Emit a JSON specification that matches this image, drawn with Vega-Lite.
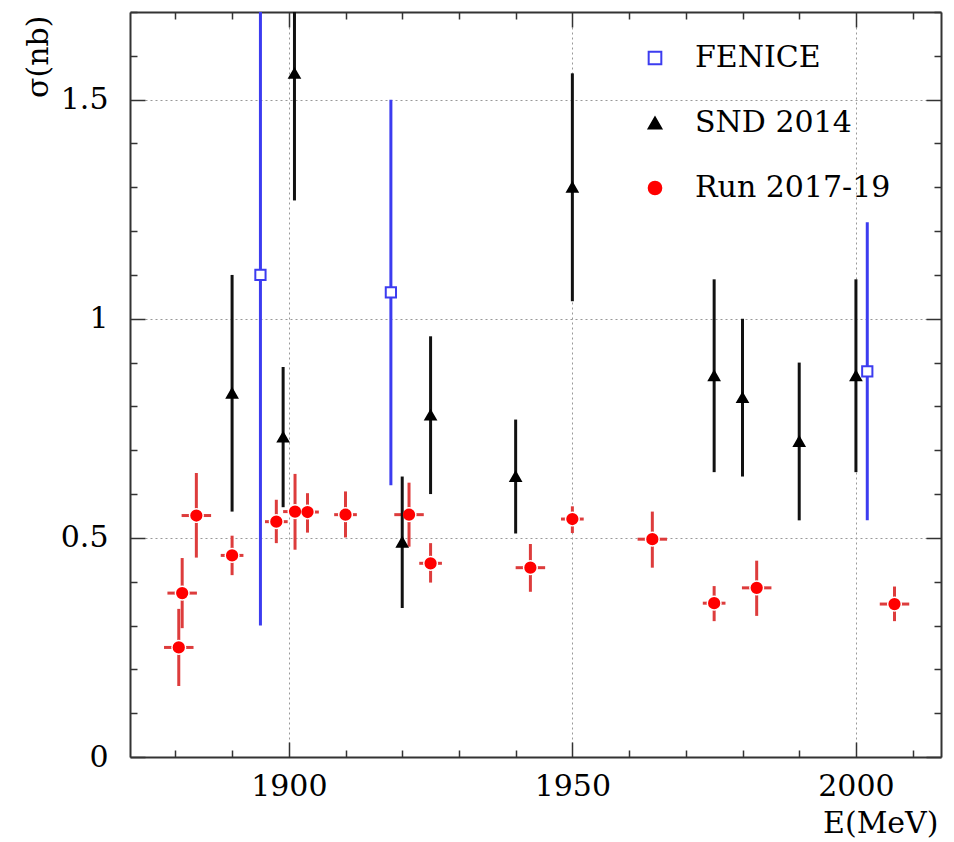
{
  "$schema": "https://vega.github.io/schema/vega-lite/v6.json",
  "width": 811,
  "height": 745,
  "autosize": "none",
  "padding": {"left": 130, "top": 12, "right": 13, "bottom": 85},
  "background": "white",
  "config": {
    "view": {"stroke": null},
    "font": "DejaVu Serif",
    "axis": {"labelFont": "DejaVu Serif", "titleFont": "DejaVu Serif", "labelColor": "black", "titleColor": "black", "titleFontWeight": "normal", "domainColor": "#333", "domainWidth": 2, "tickColor": "#333", "tickWidth": 1.5, "labelOverlap": false, "labelFlush": false},
    "legend": {"labelFont": "DejaVu Serif"}
  },
  "datasets": {
    "pts": [
      {"series": "FENICE", "E": 1895, "s": 1.10, "lo": 0.30, "hi": 1.90},
      {"series": "FENICE", "E": 1918, "s": 1.06, "lo": 0.62, "hi": 1.50},
      {"series": "FENICE", "E": 2002, "s": 0.88, "lo": 0.54, "hi": 1.22},
      {"series": "SND 2014", "E": 1890, "s": 0.83, "lo": 0.56, "hi": 1.10},
      {"series": "SND 2014", "E": 1899, "s": 0.73, "lo": 0.57, "hi": 0.89},
      {"series": "SND 2014", "E": 1901, "s": 1.56, "lo": 1.27, "hi": 1.85},
      {"series": "SND 2014", "E": 1920, "s": 0.49, "lo": 0.34, "hi": 0.64},
      {"series": "SND 2014", "E": 1925, "s": 0.78, "lo": 0.60, "hi": 0.96},
      {"series": "SND 2014", "E": 1940, "s": 0.64, "lo": 0.51, "hi": 0.77},
      {"series": "SND 2014", "E": 1950, "s": 1.30, "lo": 1.04, "hi": 1.56},
      {"series": "SND 2014", "E": 1975, "s": 0.87, "lo": 0.65, "hi": 1.09},
      {"series": "SND 2014", "E": 1980, "s": 0.82, "lo": 0.64, "hi": 1.00},
      {"series": "SND 2014", "E": 1990, "s": 0.72, "lo": 0.54, "hi": 0.90},
      {"series": "SND 2014", "E": 2000, "s": 0.87, "lo": 0.65, "hi": 1.09},
      {"series": "Run 2017-19", "E": 1880.6, "s": 0.250, "lo": 0.162, "hi": 0.338, "elo": 1878.0, "ehi": 1883.2},
      {"series": "Run 2017-19", "E": 1881.2, "s": 0.374, "lo": 0.294, "hi": 0.454, "elo": 1878.6, "ehi": 1883.8},
      {"series": "Run 2017-19", "E": 1883.7, "s": 0.551, "lo": 0.455, "hi": 0.648, "elo": 1881.1, "ehi": 1886.3},
      {"series": "Run 2017-19", "E": 1890.0, "s": 0.460, "lo": 0.415, "hi": 0.505, "elo": 1888.0, "ehi": 1892.0},
      {"series": "Run 2017-19", "E": 1897.8, "s": 0.537, "lo": 0.488, "hi": 0.587, "elo": 1895.8, "ehi": 1899.8},
      {"series": "Run 2017-19", "E": 1901.1, "s": 0.560, "lo": 0.473, "hi": 0.646, "elo": 1899.0, "ehi": 1903.2},
      {"series": "Run 2017-19", "E": 1903.3, "s": 0.559, "lo": 0.512, "hi": 0.602, "elo": 1901.3, "ehi": 1905.3},
      {"series": "Run 2017-19", "E": 1910.0, "s": 0.553, "lo": 0.501, "hi": 0.606, "elo": 1908.0, "ehi": 1912.0},
      {"series": "Run 2017-19", "E": 1921.2, "s": 0.553, "lo": 0.480, "hi": 0.626, "elo": 1918.6, "ehi": 1923.8},
      {"series": "Run 2017-19", "E": 1925.0, "s": 0.442, "lo": 0.398, "hi": 0.488, "elo": 1923.0, "ehi": 1927.0},
      {"series": "Run 2017-19", "E": 1942.6, "s": 0.432, "lo": 0.377, "hi": 0.486, "elo": 1940.0, "ehi": 1945.2},
      {"series": "Run 2017-19", "E": 1950.0, "s": 0.543, "lo": 0.511, "hi": 0.572, "elo": 1948.0, "ehi": 1952.0},
      {"series": "Run 2017-19", "E": 1964.1, "s": 0.497, "lo": 0.432, "hi": 0.560, "elo": 1961.5, "ehi": 1966.7},
      {"series": "Run 2017-19", "E": 1975.0, "s": 0.351, "lo": 0.310, "hi": 0.390, "elo": 1973.0, "ehi": 1977.0},
      {"series": "Run 2017-19", "E": 1982.5, "s": 0.386, "lo": 0.322, "hi": 0.448, "elo": 1979.9, "ehi": 1985.1},
      {"series": "Run 2017-19", "E": 2006.8, "s": 0.349, "lo": 0.310, "hi": 0.389, "elo": 2004.2, "ehi": 2009.4}
    ]
  },
  "data": {"name": "pts"},
  "resolve": {"axis": {"x": "independent", "y": "independent"}},
  "layer": [
    {
      "transform": [{"filter": "datum.series === 'Run 2017-19'"}],
      "mark": {"type": "rule", "color": "#dd3c3c", "strokeWidth": 3, "clip": true},
      "encoding": {
        "x": {"field": "E", "type": "quantitative", "scale": {"domain": [1872, 2015], "nice": false, "zero": false},
          "axis": {"orient": "bottom", "values": [1880, 1890, 1900, 1910, 1920, 1930, 1940, 1950, 1960, 1970, 1980, 1990, 2000, 2010],
            "labelExpr": "datum.value % 50 === 0 ? format(datum.value, 'd') : ''",
            "tickSize": {"condition": {"test": "datum.value % 50 === 0", "value": -15}, "value": -7},
            "labelPadding": 29, "labelFontSize": 30,
            "grid": true, "gridDash": [2, 3], "gridColor": "#999", "gridWidth": 1,
            "gridOpacity": {"condition": {"test": "datum.value % 50 === 0", "value": 1}, "value": 0},
            "title": "E(MeV)", "titleFontSize": 30, "titleX": 808, "titleY": 66, "titleAlign": "right", "titleBaseline": "middle", "titleAngle": 0}},
        "y": {"field": "lo", "type": "quantitative", "scale": {"domain": [0, 1.7], "nice": false, "zero": false},
          "axis": {"orient": "left", "values": [0, 0.1, 0.2, 0.3, 0.4, 0.5, 0.6, 0.7, 0.8, 0.9, 1, 1.1, 1.2, 1.3, 1.4, 1.5, 1.6, 1.7],
            "labelExpr": "round(datum.value * 10) % 5 === 0 ? format(datum.value, '~g') : ''",
            "tickSize": {"condition": {"test": "round(datum.value * 10) % 5 === 0", "value": -15}, "value": -7},
            "labelPadding": 37, "labelFontSize": 30,
            "grid": true, "gridDash": [2, 3], "gridColor": "#999", "gridWidth": 1,
            "gridOpacity": {"condition": {"test": "round(datum.value * 10) % 5 === 0 && datum.value > 0", "value": 1}, "value": 0},
            "title": "σ(nb)", "titleFontSize": 30, "titleAngle": 270, "titleX": -92, "titleY": 3, "titleAlign": "right", "titleBaseline": "middle"}},
        "y2": {"field": "hi"}
      }
    },
    {
      "transform": [{"filter": "datum.series === 'Run 2017-19'"}],
      "mark": {"type": "rule", "color": "#dd3c3c", "strokeWidth": 3, "clip": true},
      "encoding": {
        "x": {"field": "elo", "type": "quantitative", "scale": {"domain": [1872, 2015], "nice": false, "zero": false},
          "axis": {"orient": "top", "values": [1880, 1890, 1900, 1910, 1920, 1930, 1940, 1950, 1960, 1970, 1980, 1990, 2000, 2010],
            "labels": false, "grid": false, "title": null,
            "tickSize": {"condition": {"test": "datum.value % 50 === 0", "value": -15}, "value": -7}}},
        "x2": {"field": "ehi"},
        "y": {"field": "s", "type": "quantitative", "scale": {"domain": [0, 1.7], "nice": false, "zero": false},
          "axis": {"orient": "right", "values": [0, 0.1, 0.2, 0.3, 0.4, 0.5, 0.6, 0.7, 0.8, 0.9, 1, 1.1, 1.2, 1.3, 1.4, 1.5, 1.6, 1.7],
            "labels": false, "grid": false, "title": null,
            "tickSize": {"condition": {"test": "round(datum.value * 10) % 5 === 0", "value": -15}, "value": -7}}}
      }
    },
    {
      "transform": [{"filter": "datum.series === 'Run 2017-19'"}],
      "mark": {"type": "point", "filled": true, "fill": "white", "strokeWidth": 0, "size": 230, "opacity": 1},
      "encoding": {
        "x": {"field": "E", "type": "quantitative", "axis": null},
        "y": {"field": "s", "type": "quantitative", "axis": null}
      }
    },
    {
      "transform": [{"filter": "datum.series === 'SND 2014'"}],
      "mark": {"type": "rule", "color": "#111", "strokeWidth": 3, "clip": true},
      "encoding": {
        "x": {"field": "E", "type": "quantitative", "axis": null},
        "y": {"field": "lo", "type": "quantitative", "axis": null},
        "y2": {"field": "hi"}
      }
    },
    {
      "transform": [{"filter": "datum.series === 'FENICE'"}],
      "mark": {"type": "rule", "color": "#3c3cf0", "strokeWidth": 3, "clip": true},
      "encoding": {
        "x": {"field": "E", "type": "quantitative", "axis": null},
        "y": {"field": "lo", "type": "quantitative", "axis": null},
        "y2": {"field": "hi"}
      }
    },
    {
      "mark": {"type": "point", "strokeWidth": 2, "size": 105, "opacity": 1},
      "encoding": {
        "x": {"field": "E", "type": "quantitative", "axis": null},
        "y": {"field": "s", "type": "quantitative", "axis": null},
        "shape": {"field": "series", "type": "nominal",
          "scale": {"domain": ["FENICE", "SND 2014", "Run 2017-19"], "range": ["square", "triangle-up", "circle"]},
          "legend": {"orient": "none", "legendX": 510, "legendY": 31, "title": null, "labelFont": "DejaVu Serif", "labelFontSize": 30, "labelColor": "black", "labelLimit": 500, "symbolSize": 160, "symbolStrokeWidth": 2, "rowPadding": 35, "labelOffset": 25, "padding": 0}},
        "fill": {"field": "series", "type": "nominal",
          "scale": {"domain": ["FENICE", "SND 2014", "Run 2017-19"], "range": ["white", "black", "#ff0000"]},
          "legend": {"orient": "none", "legendX": 510, "legendY": 31, "title": null, "labelFont": "DejaVu Serif", "labelFontSize": 30, "labelColor": "black", "labelLimit": 500, "symbolSize": 160, "symbolStrokeWidth": 2, "rowPadding": 35, "labelOffset": 25, "padding": 0}},
        "stroke": {"field": "series", "type": "nominal",
          "scale": {"domain": ["FENICE", "SND 2014", "Run 2017-19"], "range": ["#3c3cf0", "black", "#ff0000"]},
          "legend": {"orient": "none", "legendX": 510, "legendY": 31, "title": null, "labelFont": "DejaVu Serif", "labelFontSize": 30, "labelColor": "black", "labelLimit": 500, "symbolSize": 160, "symbolStrokeWidth": 2, "rowPadding": 35, "labelOffset": 25, "padding": 0}}
      }
    }
  ]
}
